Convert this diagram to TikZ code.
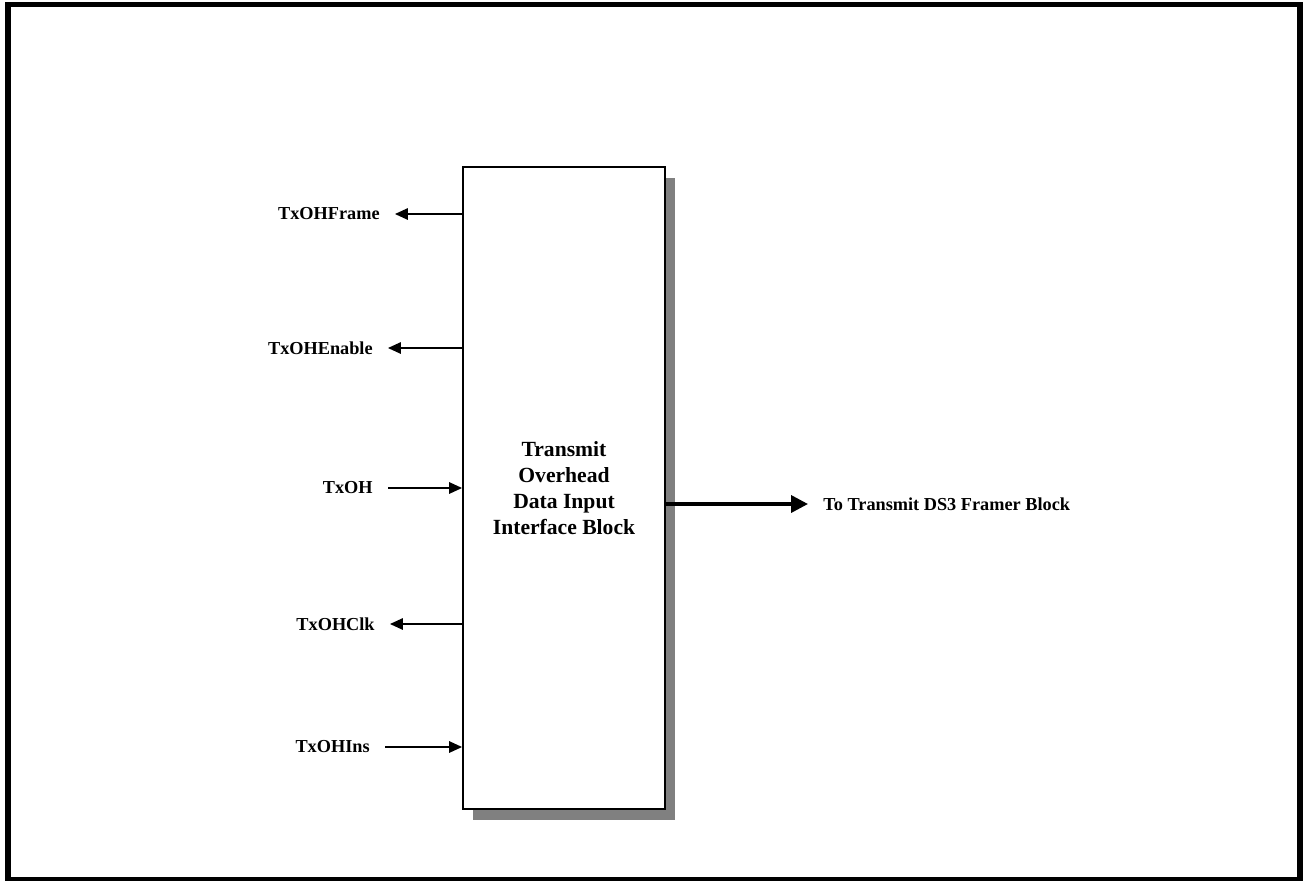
\documentclass[tikz,border=0pt]{standalone}
\usepackage{fontspec}
\setmainfont{Liberation Serif}
\usetikzlibrary{arrows.meta,shadows}
\tikzset{
  lbl/.style={inner xsep=0.3cm, inner ysep=0pt, font=\fontsize{10.4}{12.5}\selectfont\bfseries},
  sig/.style={line width=0.8pt, -{Triangle[length=7.3pt,width=6.5pt]}},
  bigsig/.style={line width=2pt, -{Triangle[length=9.6pt,width=9.6pt]}},
  blockbox/.style={draw, line width=1.1pt, fill=white, minimum width=4.04cm, minimum height=12.84cm,
    align=center, font=\fontsize{12.3}{14.8}\selectfont\bfseries,
    drop shadow={shadow xshift=0.2cm, shadow yshift=-0.22cm, fill=gray, opacity=1}}
}
\begin{document}
\begin{tikzpicture}[x=0.02cm,y=-0.02cm]
            \useasboundingbox (0,0) rectangle (1303,880);
            \coordinate (FrameTL) at (8,4.5);
            \coordinate (FrameBR) at (1300,879.5);
            \draw[line width=3.4pt] (FrameTL) rectangle (FrameBR);

            \node[blockbox] (block) at (564,488) {Transmit\\Overhead\\Data Input\\Interface Block};

            \node[lbl, anchor=east] (frame) at (395,214) {TxOHFrame};
            \node[lbl, anchor=east] (enable) at (388,348) {TxOHEnable};
            \node[lbl, anchor=east] (txoh) at (388,488) {TxOH};
            \node[lbl, anchor=east] (clk) at (390,624) {TxOHClk};
            \node[lbl, anchor=east] (ins) at (385,747) {TxOHIns};
            \node[lbl, anchor=west] (framer) at (808,504) {To Transmit DS3 Framer Block};

            \draw[sig] (block.west |- frame) -- (frame);
            \draw[sig] (block.west |- enable) -- (enable);
            \draw[sig] (txoh) -- (txoh -| block.west);
            \draw[sig] (block.west |- clk) -- (clk);
            \draw[sig] (ins) -- (ins -| block.west);
            \draw[bigsig] (block.east |- framer) -- (framer);
        \end{tikzpicture}
\end{document}
